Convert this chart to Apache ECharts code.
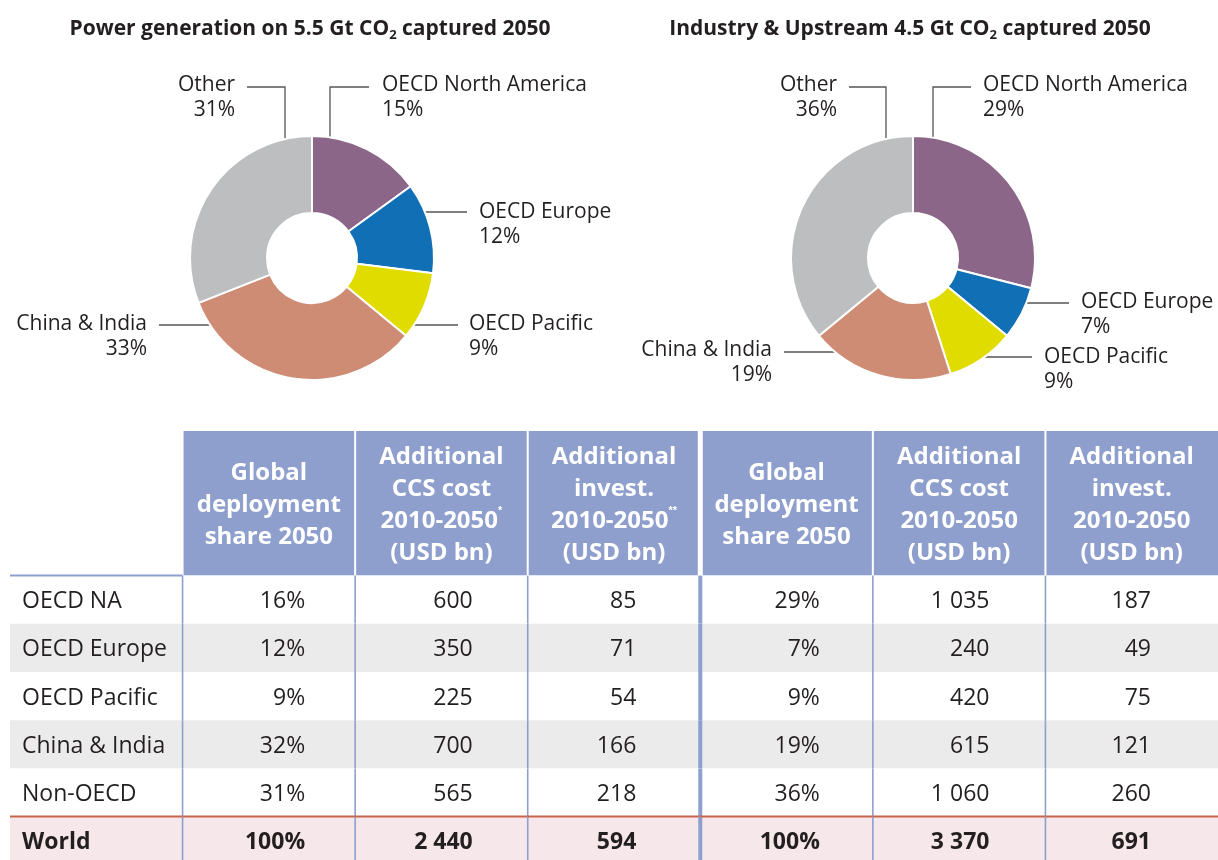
<!DOCTYPE html>
<html><head><meta charset="utf-8">
<script src="https://cdn.jsdelivr.net/npm/echarts@6/dist/echarts.min.js"></script>
<style>html,body{margin:0;padding:0;background:#fff}#c{width:1218px;height:860px}</style>
</head><body><div id="c"></div>
<script>
// ---------- data ----------
const pieRegions = ['OECD North America', 'OECD Europe', 'OECD Pacific', 'China & India', 'Other'];
const powerPie = [15, 12, 9, 33, 31];
const industryPie = [29, 7, 9, 19, 36];
const pieColors = ['#8B6688', '#1170B5', '#E0DC00', '#CE8C75', '#BDBEC0'];

const powerTitle = ['Power generation on 5.5 Gt CO', '2', ' captured 2050'];
const industryTitle = ['Industry & Upstream 4.5 Gt CO', '2', ' captured 2050'];

const tableRegions = ['OECD NA', 'OECD Europe', 'OECD Pacific', 'China & India', 'Non-OECD', 'World'];
const headers = [
  'Global\ndeployment\nshare 2050',
  'Additional\nCCS cost\n2010-2050{sup|*}\n(USD bn)',
  'Additional\ninvest.\n2010-2050{sup|**}\n(USD bn)',
  'Global\ndeployment\nshare 2050',
  'Additional\nCCS cost\n2010-2050\n(USD bn)',
  'Additional\ninvest.\n2010-2050\n(USD bn)'
];
const powerShare = [16, 12, 9, 32, 31, 100];
const powerCost = [600, 350, 225, 700, 565, 2440];
const powerInvest = [85, 71, 54, 166, 218, 594];
const industryShare = [29, 7, 9, 19, 36, 100];
const industryCost = [1035, 240, 420, 615, 1060, 3370];
const industryInvest = [187, 49, 75, 121, 260, 691];

// ---------- styling / layout ----------
const FONT = 'Open Sans';
const TXT = '#231F20';
const HEAD_BG = '#8E9FCD';
const ROW_BG = ['#FFFFFF', '#EBEBEB', '#FFFFFF', '#EBEBEB', '#FFFFFF', '#F6E7EA'];
const RIGHT_PAD = [50, 55, 64, 53, 56, 67];

const columns = [powerShare, powerCost, powerInvest, industryShare, industryCost, industryInvest];
const isPct = [true, false, false, true, false, false];
const fmt = (n, pct) => pct ? n + '%' : String(n).replace(/\B(?=(\d{3})+(?!\d))/g, ' ');

// label placements (offsets from the pie centre)
const place1 = [
  {dx: 70, dy: -160.5, align: 'left', line: [[18, -109], [18, -171], [57, -171]]},
  {dx: 167, dy: -33.5, align: 'left', line: [[99, -46], [127, -46], [155, -46]]},
  {dx: 157, dy: 78.5, align: 'left', line: [[88, 67], [117, 67], [146, 67]]},
  {dx: -165, dy: 78.5, align: 'right', line: [[-95, 67], [-124, 67], [-153, 67]]},
  {dx: -77, dy: -160.5, align: 'right', line: [[-27, -109], [-27, -171], [-65, -171]]}
];
const place2 = [
  {dx: 70, dy: -160.5, align: 'left', line: [[20, -109], [20, -171], [58, -171]]},
  {dx: 168, dy: 56.5, align: 'left', line: [[99, 45], [127, 45], [156, 45]]},
  {dx: 131, dy: 111.5, align: 'left', line: [[63, 99], [91, 99], [119, 99]]},
  {dx: -141, dy: 104.5, align: 'right', line: [[-71, 94], [-100, 94], [-129, 94]]},
  {dx: -76, dy: -160.5, align: 'right', line: [[-27, -109], [-27, -171], [-64, -171]]}
];

function makeLayout(cx, cy, pl) {
  return function (params) {
    const p = pl[params.dataIndex];
    return {
      x: cx + p.dx, y: cy + p.dy, align: p.align, verticalAlign: 'middle',
      labelLinePoints: p.line.map(q => [cx + q[0], cy + q[1]])
    };
  };
}

function pieSeries(values, cx, cy, pl) {
  return {
    type: 'pie', center: [cx, cy], radius: [45, 122], startAngle: 90, clockwise: true,
    avoidLabelOverlap: false, silent: true,
    itemStyle: {borderColor: '#fff', borderWidth: 2},
    label: {show: true, position: 'outside', formatter: p => p.name + '\n' + p.value + '%',
      fontFamily: FONT, fontSize: 21, lineHeight: 25, color: TXT},
    labelLine: {show: true, lineStyle: {color: '#555', width: 1.3}},
    labelLayout: makeLayout(cx, cy, pl),
    data: values.map((v, i) => ({name: pieRegions[i], value: v, itemStyle: {color: pieColors[i]}}))
  };
}

// ---------- table cells ----------
const cells = [];
headers.forEach((h, i) => cells.push({kind: 'head', col: i + 1, row: 0, span: 3, text: h}));
tableRegions.forEach((r, ri) => {
  cells.push({kind: 'body', col: 0, row: 3 + ri, span: 1, text: r, ri});
  columns.forEach((arr, ci) => cells.push({kind: 'body', col: ci + 1, row: 3 + ri, span: 1, text: fmt(arr[ri], isPct[ci]), ri}));
});

function renderCell(params, api) {
  const c = cells[params.dataIndex];
  const col = api.value(0), row = api.value(1), span = api.value(2);
  const p0 = api.coord([col, row]);
  const p1 = api.coord([col + 1, row + span]);
  const x = p0[0], y = p0[1], w = p1[0] - p0[0], h = p1[1] - p0[1];
  const children = [];
  if (c.kind === 'head') {
    const gl = col === 4 ? 2.5 : 1, gr = col === 3 ? 2.5 : (col === 6 ? 0 : 1);
    children.push({type: 'rect', shape: {x: x + gl, y: y, width: w - gl - gr, height: h}, style: {fill: HEAD_BG}});
    children.push({type: 'text', style: {
      x: x + w / 2, y: y + h / 2 + 2, text: c.text, align: 'center', verticalAlign: 'middle',
      fontFamily: FONT, fontSize: 24, fontWeight: 'bold', lineHeight: 32, fill: '#fff',
      rich: {sup: {fontSize: 11, fontWeight: 'bold', fill: '#fff', verticalAlign: 'top', lineHeight: 32, padding: [0, 0, 12, 0]}}
    }});
  } else {
    const world = c.ri === 5;
    children.push({type: 'rect', shape: {x: x, y: y, width: w, height: h}, style: {fill: ROW_BG[c.ri]}});
    if (col >= 1) {
      children.push({type: 'line', shape: {x1: x, y1: y, x2: x, y2: y + h},
        style: {stroke: HEAD_BG, lineWidth: col === 4 ? 4 : 1.6}});
    }
    if (col === 0 && c.ri === 0) {
      children.push({type: 'line', shape: {x1: x, y1: y, x2: x + w, y2: y}, style: {stroke: HEAD_BG, lineWidth: 2}});
    }
    if (world) {
      children.push({type: 'line', shape: {x1: x, y1: y, x2: x + w, y2: y}, style: {stroke: '#C8644A', lineWidth: 2}});
    }
    const isLabel = col === 0;
    children.push({type: 'text', style: {
      x: isLabel ? x + 12 : x + w - RIGHT_PAD[col - 1], y: y + h / 2 + 2, text: c.text,
      align: isLabel ? 'left' : 'right', verticalAlign: 'middle',
      fontFamily: FONT, fontSize: 23, fontWeight: world ? 'bold' : 'normal', fill: TXT
    }});
  }
  return {type: 'group', children};
}

function titleGraphic(parts, cx) {
  return {type: 'text', x: cx, y: 29, style: {
    text: '{b|' + parts[0] + '}{s|' + parts[1] + '}{b|' + parts[2] + '}',
    align: 'center', verticalAlign: 'middle',
    rich: {
      b: {fontFamily: FONT, fontSize: 21, fontWeight: 'bold', fill: TXT, lineHeight: 26},
      s: {fontFamily: FONT, fontSize: 13, fontWeight: 'bold', fill: TXT, lineHeight: 26, padding: [13, 0, 0, 0]}
    }
  }};
}

const chart = echarts.init(document.getElementById('c'), null, {renderer: 'canvas'});
chart.setOption({
  animation: false,
  backgroundColor: '#fff',
  graphic: [titleGraphic(powerTitle, 310), titleGraphic(industryTitle, 910)],
  grid: {left: 10, top: 431, width: 1208, height: 429, containLabel: false},
  xAxis: {type: 'value', min: 0, max: 7, show: false},
  yAxis: {type: 'value', min: 0, max: 8.9, inverse: true, show: false},
  series: [
    pieSeries(powerPie, 312, 258, place1),
    pieSeries(industryPie, 913, 258, place2),
    {type: 'custom', silent: true, clip: false, renderItem: renderCell,
      data: cells.map(c => [c.col, c.row, c.span])}
  ]
});
</script></body></html>
